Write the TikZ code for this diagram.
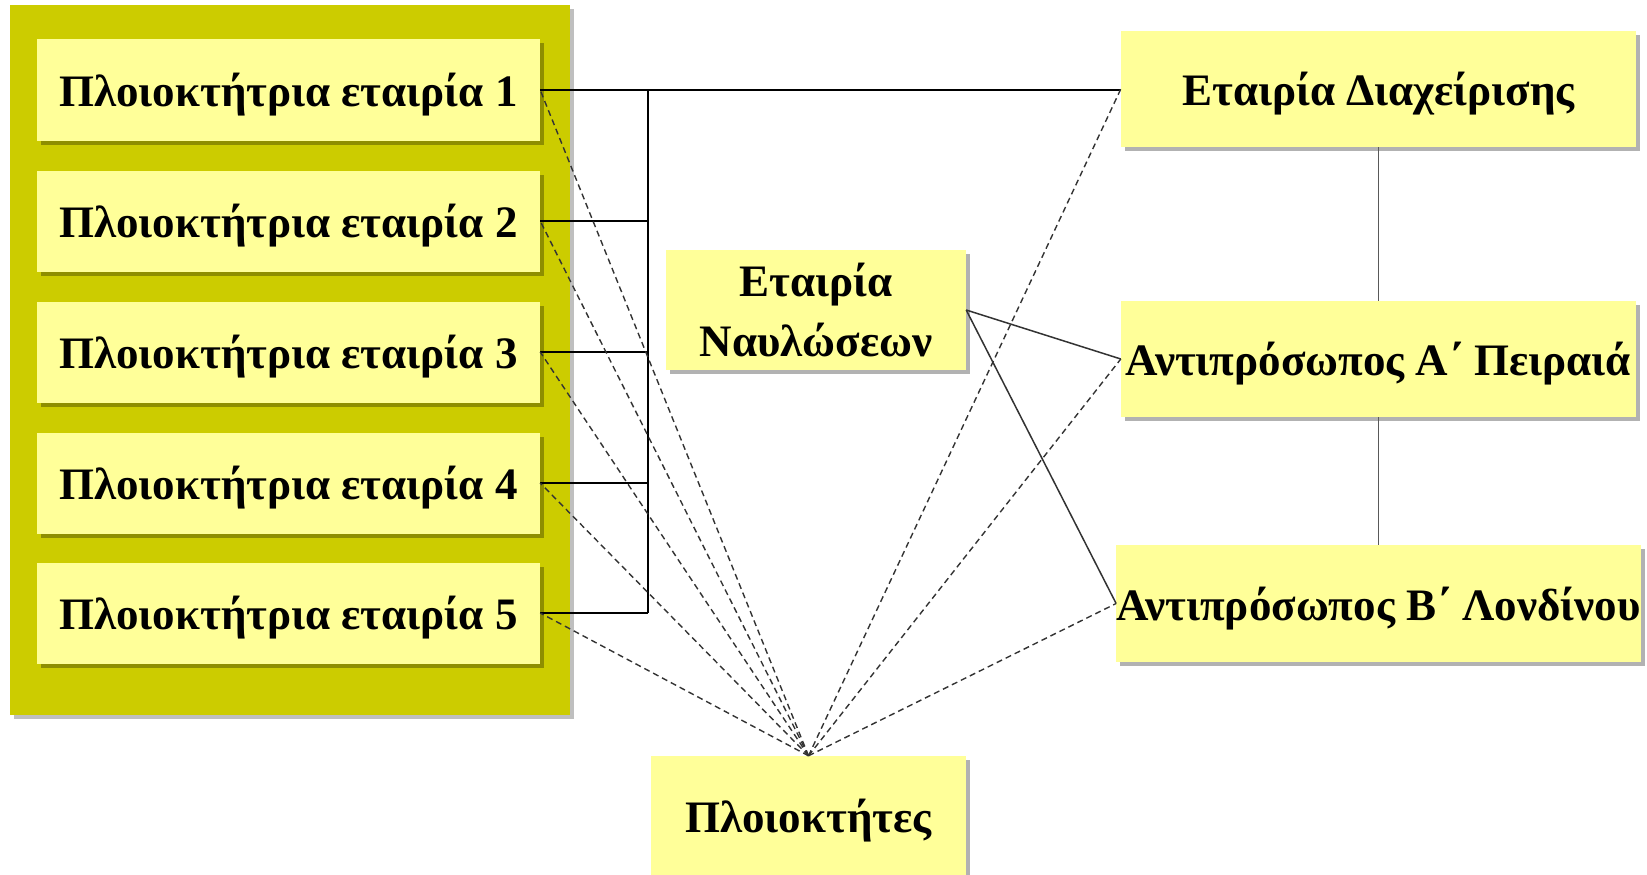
\documentclass[tikz,border=0pt]{standalone}
\usepackage{fontspec}
\setmainfont{Liberation Serif}
\usetikzlibrary{shadows}
\definecolor{olive}{RGB}{204,204,0}
\definecolor{paleyellow}{RGB}{255,255,153}
\tikzset{
  x=1pt, y=-1pt,
  every node/.style={font=\fontsize{45}{60}\selectfont\bfseries},
  unitbox/.style={fill=paleyellow, draw=none, inner sep=0pt, align=center, text depth=0pt,
    drop shadow={shadow xshift=4pt, shadow yshift=-4pt, fill=black, opacity=0.3}},
  frame/.style={fill=olive, draw=none,
    drop shadow={shadow xshift=4pt, shadow yshift=-4pt, fill=black, opacity=0.25}},
  bus/.style={line width=2.6pt, black},
  link/.style={line width=1.5pt, black!80},
  tie/.style={line width=1.3pt, black!65},
  relation/.style={dashed, dash pattern=on 6pt off 4pt, line width=1.4pt, black!80},
}
\begin{document}
\begin{tikzpicture}
\useasboundingbox (0,0) rectangle (1647,875);

% group of shipowning companies
\node[frame, minimum width=560pt, minimum height=710pt] (group) at (290,360) {};
\foreach \i/\y in {1/90, 2/221, 3/352, 4/483, 5/613} {
  \node[unitbox, minimum width=503pt, minimum height=101pt] (c\i) at (288.5,\y)
    {Πλοιοκτήτρια εταιρία \i};
}

% other parties
\node[unitbox, minimum width=515pt, minimum height=116pt] (manager) at (1378.5,89) {Εταιρία Διαχείρισης};
\node[unitbox, minimum width=515pt, minimum height=116pt] (piraeus) at (1378.5,359) {Αντιπρόσωπος Α΄ Πειραιά};
\node[unitbox, minimum width=515pt, minimum height=117pt] (london) at (1378.5,603.5) {Αντιπρόσωπος Β΄ Λονδίνου};
\node[unitbox, minimum width=300pt, minimum height=120pt] (charter) at (816,310) {Εταιρία\\Ναυλώσεων};
\node[unitbox, minimum width=315pt, minimum height=120pt] (owners) at (808.5,816) {Πλοιοκτήτες};

% ownership links between companies and manager
\coordinate (bustop) at (648,90);
\coordinate (busbot) at (648,613);
\draw[bus] (c1.east) -- (c1.east -| manager.west);
\draw[bus] (bustop) -- (busbot);
\foreach \i in {2,...,5} {
  \draw[bus] (c\i.east) -- (c\i.east -| bustop);
}

% management chain
\draw[tie] (manager.south) -- (piraeus.north);
\draw[tie] (piraeus.south) -- (london.north);

% chartering company and agents
\draw[link] (charter.east) -- (piraeus.west);
\draw[link] (charter.east) -- (london.west);

% shipowners' relations
\foreach \i in {1,...,5} {
  \draw[relation] (owners.north) -- (c\i.east);
}
\draw[relation] (owners.north) -- (manager.west);
\draw[relation] (owners.north) -- (piraeus.west);
\draw[relation] (owners.north) -- (london.west);
\end{tikzpicture}
\end{document}
